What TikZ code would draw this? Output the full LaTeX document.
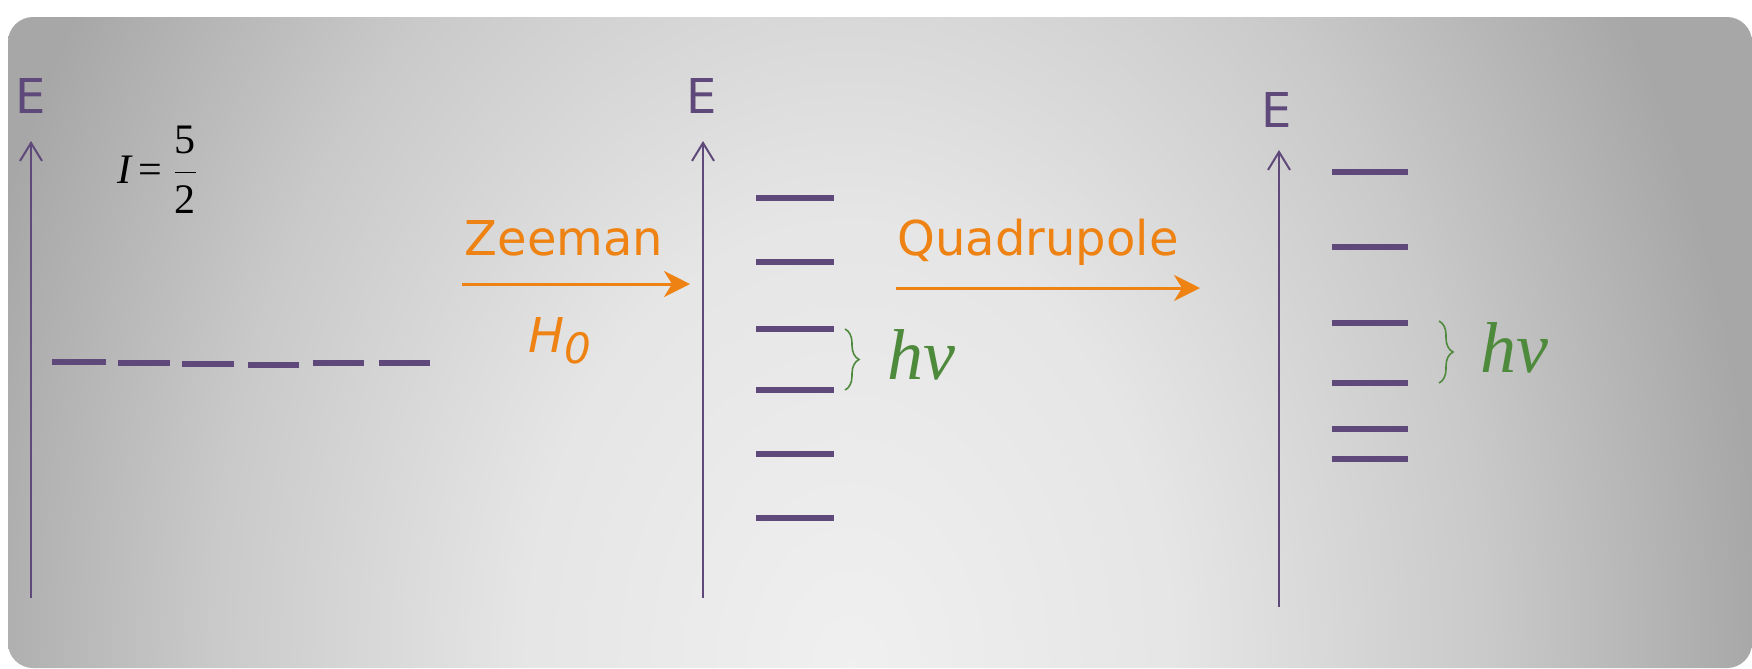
\documentclass[tikz,border=0pt]{standalone}
\usepackage{amsmath}
\usepackage{fontspec}
\usetikzlibrary{arrows.meta, positioning, decorations.pathreplacing}
\newfontfamily\verd{DejaVu Sans}
\newfontfamily\tnr{Liberation Serif}
\definecolor{levelpurple}{HTML}{5F497A}
\definecolor{splitorange}{HTML}{EE8212}
\definecolor{hvgreen}{HTML}{4E8A3C}
\definecolor{glowA}{gray}{0.94}
\definecolor{glowB}{gray}{0.90}
\definecolor{glowC}{gray}{0.79}
\definecolor{glowD}{gray}{0.655}
% the path's box spans -25bp..25bp of the shading
\pgfdeclareradialshading{slideglow}{\pgfpoint{0bp}{0bp}}{color(0bp)=(glowA); color(9bp)=(glowB); color(17.5bp)=(glowC); color(25bp)=(glowD); color(50bp)=(glowD)}

\begin{document}
\begin{tikzpicture}[
    x=0.25pt, y=-0.25pt,
    axis/.style={levelpurple, line width=0.5pt, -{Straight Barb[length=4.5pt, width=5.5pt]}},
    level/.style={levelpurple, line width=1.3pt},
    splitarr/.style={splitorange, line width=0.75pt, -{Stealth[length=6.5pt, width=6.5pt, inset=2pt]}},
    gap/.style={hvgreen, line width=0.4pt, decorate, decoration={brace, amplitude=3.5pt}},
    elabel/.style={levelpurple, font=\verd\fontsize{12}{14}\selectfont, inner sep=0pt},
    effect/.style={splitorange, font=\verd\fontsize{12}{14}\selectfont, inner sep=0pt},
    hv/.style={hvgreen, font=\tnr\itshape\fontsize{18}{20}\selectfont, inner sep=0pt},
  ]
  \path[use as bounding box] (0,0) rectangle (1752,668);
  \begin{scope}
    \clip[rounded corners=6.25pt] (8,17) rectangle (1752,668);
    \shade[shading=slideglow] (-60,-582) rectangle (1760,1918);
  \end{scope}

  % energy axes
  \coordinate (free-bot) at (31,598);  \coordinate (free-top) at (31,141);
  \coordinate (zee-bot) at (703,598);  \coordinate (zee-top) at (703,141);
  \coordinate (quad-bot) at (1279,607); \coordinate (quad-top) at (1279,150);
  \draw[axis] (free-bot) -- (free-top);
  \draw[axis] (zee-bot) -- (zee-top);
  \draw[axis] (quad-bot) -- (quad-top);
  \node[elabel] (e-free) at (31,96) {E};
  \node[elabel] (e-zee) at (702,96) {E};
  \node[elabel] (e-quad) at (1277,110) {E};

  \node[inner sep=0pt] (spin) at (159,170) {\tnr\fontsize{10.5}{12}\selectfont $\textit{I}\,\text{=}\,\dfrac{\text{5}}{\text{2}}$};

  % degenerate level
  \draw[level] (52,362) -- (106,362);
  \draw[level] (118,363) -- (170,363);
  \draw[level] (182,364) -- (234,364);
  \draw[level] (248,365) -- (299,365);
  \draw[level] (313,363) -- (364,363);
  \draw[level] (379,363) -- (430,363);

  % Zeeman levels
  \draw[level] (756,198) -- (834,198);
  \draw[level] (756,262) -- (834,262);
  \draw[level] (756,329) -- (834,329);
  \coordinate (z3) at (845,329);
  \draw[level] (756,390) -- (834,390);
  \coordinate (z4) at (845,390);
  \draw[level] (756,454) -- (834,454);
  \draw[level] (756,518) -- (834,518);

  % quadrupole levels
  \draw[level] (1332,172) -- (1408,172);
  \draw[level] (1332,247) -- (1408,247);
  \draw[level] (1332,323) -- (1408,323);
  \coordinate (q3) at (1439,321);
  \draw[level] (1332,383) -- (1408,383);
  \coordinate (q4) at (1439,383);
  \draw[level] (1332,429) -- (1408,429);
  \draw[level] (1332,459) -- (1408,459);

  % splitting arrows
  \coordinate (zee-from) at (462,284);  \coordinate (zee-to) at (690,284);
  \coordinate (quad-from) at (896,288); \coordinate (quad-to) at (1200,288);
  \draw[splitarr] (zee-from) -- (zee-to);
  \draw[splitarr] (quad-from) -- (quad-to);
  \node[effect, anchor=base] (zeeman) at (564,255) {Zeeman};
  \node[effect, anchor=base] (quadrupole) at (1038,255) {Quadrupole};
  \node[effect, anchor=base, font=\verd\itshape\fontsize{12}{14}\selectfont] (field) at (560,352) {H\raisebox{-2.8pt}{\fontsize{10.5}{12}\selectfont 0}};

  % transition gaps
  \draw[gap] (z3) -- (z4);
  \draw[gap] (q3) -- (q4);
  \node[hv, anchor=base west] (hv-zee) at (887,379) {hν};
  \node[hv, anchor=base west] (hv-quad) at (1480,372) {hν};
\end{tikzpicture}
\end{document}
